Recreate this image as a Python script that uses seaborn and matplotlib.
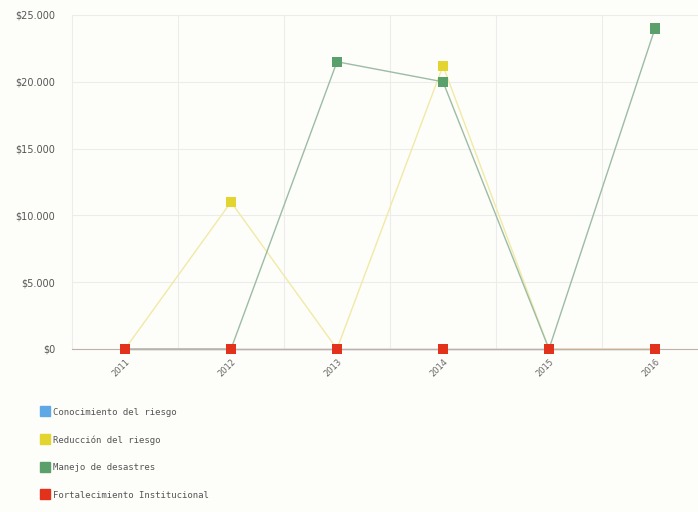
import pandas as pd
import seaborn as sns
import matplotlib.pyplot as plt
from matplotlib.lines import Line2D
from matplotlib.ticker import FuncFormatter

# datos
years = ["2011", "2012", "2013", "2014", "2015", "2016"]
conocimiento = [0, 0, 0, 0, 0, 0]
reduccion = [0, 11000, 0, 21200, 0, 0]
manejo = [0, 0, 21500, 20000, 0, 24000]
fortalecimiento = [0, 0, 0, 0, 0, 0]

series_names = ["Conocimiento del riesgo", "Reducción del riesgo",
                "Manejo de desastres", "Fortalecimiento Institucional"]
marker_colors = ["#5fa8e6", "#e3d430", "#5aa06a", "#e2321c"]
line_colors = ["#b9d8f0", "#f1eaa6", "#9cbca4", "#d4aaa4"]

rows = []
for name, vals in zip(series_names, [conocimiento, reduccion, manejo, fortalecimiento]):
    for i, (yr, v) in enumerate(zip(years, vals)):
        rows.append({"serie": name, "x": i, "year": yr, "valor": v})
df = pd.DataFrame(rows)

sns.set_style("white")
plt.rcParams['font.family'] = ['DejaVu Sans']

fig = plt.figure(figsize=(6.98, 5.12), dpi=100)
fig.patch.set_facecolor("#fdfdfa")
ax = fig.add_axes([72 / 698, 1 - 349 / 512, (698 - 72) / 698, (349 - 15) / 512])
ax.set_facecolor("#fdfdfa")

sns.lineplot(data=df, x="x", y="valor", hue="serie", hue_order=series_names,
             palette=dict(zip(series_names, line_colors)), linewidth=1.0,
             legend=False, ax=ax, clip_on=False)
sns.scatterplot(data=df, x="x", y="valor", hue="serie", hue_order=series_names,
                palette=dict(zip(series_names, marker_colors)), marker="s", s=55,
                linewidth=0, legend=False, ax=ax, clip_on=False, zorder=5)

ax.set_xlim(-0.5, -0.5 + 626 / 106)
ax.set_ylim(0, 25000)
ax.set_yticks([0, 5000, 10000, 15000, 20000, 25000])
ax.yaxis.set_major_formatter(FuncFormatter(lambda v, p: "$" + f"{int(v):,}".replace(",", ".")))
ax.set_xticks(range(len(years)))
ax.set_xticklabels(years, rotation=45, ha="right", rotation_mode="anchor")
ax.set_xticks([i + 0.5 for i in range(len(years) - 1)], minor=True)

ax.grid(True, axis="y", color="#ececec", linewidth=0.8)
ax.grid(True, axis="x", which="minor", color="#ececec", linewidth=0.8)
ax.grid(False, axis="x", which="major")
ax.tick_params(axis="y", length=0, labelsize=7, labelcolor="#555555", pad=12)
ax.tick_params(axis="x", which="both", length=0, labelsize=6, labelcolor="#666666", pad=6)
for s in ["top", "right"]:
    ax.spines[s].set_visible(False)
ax.spines["left"].set_color("#ececec")
ax.spines["bottom"].set_color("#c0b0aa")
ax.set_xlabel("")
ax.set_ylabel("")

handles = [Line2D([], [], marker="s", linestyle="", color=c, markersize=7) for c in marker_colors]
fig.legend(handles, series_names, loc="upper left", bbox_to_anchor=(36 / 698, 1 - 404 / 512),
           frameon=False, prop={"family": "DejaVu Sans Mono", "size": 6.5},
           labelcolor="#555555", handletextpad=0.3, labelspacing=2.05, handlelength=1.2,
           borderaxespad=0)

fig.savefig("out.png", dpi=100, facecolor=fig.get_facecolor())
